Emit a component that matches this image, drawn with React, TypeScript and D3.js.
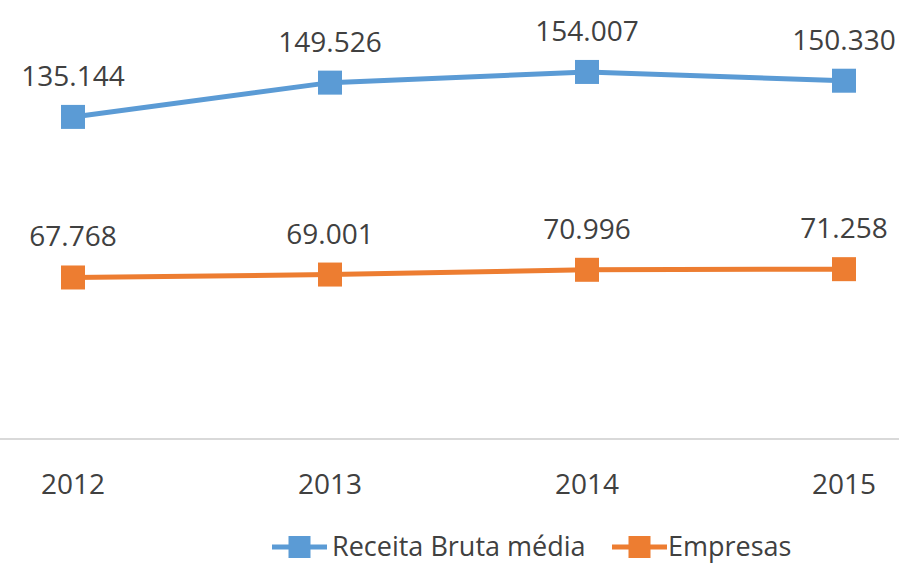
import React from "react";
import * as d3 from "d3";

const years = ["2012", "2013", "2014", "2015"];
const receita = [135144, 149526, 154007, 150330];
const empresas = [67768, 69001, 70996, 71258];
const seriesNames = ["Receita Bruta média", "Empresas"];
const colors = ["#5b9bd5", "#ed7d31"];

const W = 899;
const H = 564;
const FONT = "'Open Sans', sans-serif";
const TEXT = "#404040";

export default function App() {
  const x = d3.scalePoint<string>().domain(years).range([73, 844]);
  const y = d3.scaleLinear().domain([0, 180000]).range([439, 10]);
  const fmt = d3.formatLocale({ decimal: ",", thousands: ".", grouping: [3], currency: ["R$", ""] }).format(",d");
  const line = d3
    .line<number>()
    .x((_, i) => x(years[i])!)
    .y((d) => y(d));
  const series = [receita, empresas];
  const ms = 24;
  const legendItems = [
    { lx: 272, tx: 332 },
    { lx: 612, tx: 668 },
  ];
  return (
    <svg
      width={W}
      height={H}
      style={{ position: "absolute", left: 0, top: 0, background: "#fff" }}
      fontFamily={FONT}
    >
      <line x1={0} x2={W} y1={y(0)} y2={y(0)} stroke="#d9d9d9" strokeWidth={2} />
      {years.map((yr) => (
        <text key={yr} x={x(yr)} y={494} textAnchor="middle" fontSize={28} fill={TEXT}>
          {yr}
        </text>
      ))}
      {series.map((s, si) => (
        <g key={si}>
          <path d={line(s)!} fill="none" stroke={colors[si]} strokeWidth={5} strokeLinejoin="round" />
          {s.map((v, i) => (
            <rect
              key={i}
              x={x(years[i])! - ms / 2}
              y={y(v) - ms / 2}
              width={ms}
              height={ms}
              fill={colors[si]}
            />
          ))}
          {s.map((v, i) => (
            <text
              key={"t" + i}
              x={x(years[i])}
              y={y(v) - 31}
              textAnchor="middle"
              fontSize={28}
              fill={TEXT}
            >
              {fmt(v)}
            </text>
          ))}
        </g>
      ))}
      {legendItems.map((it, i) => (
        <g key={i}>
          <line x1={it.lx} x2={it.lx + 55} y1={547} y2={547} stroke={colors[i]} strokeWidth={5} />
          <rect x={it.lx + 27.5 - 11} y={547 - 11} width={22} height={22} fill={colors[i]} />
          <text x={it.tx} y={556} fontSize={27} fill={TEXT}>
            {seriesNames[i]}
          </text>
        </g>
      ))}
    </svg>
  );
}
